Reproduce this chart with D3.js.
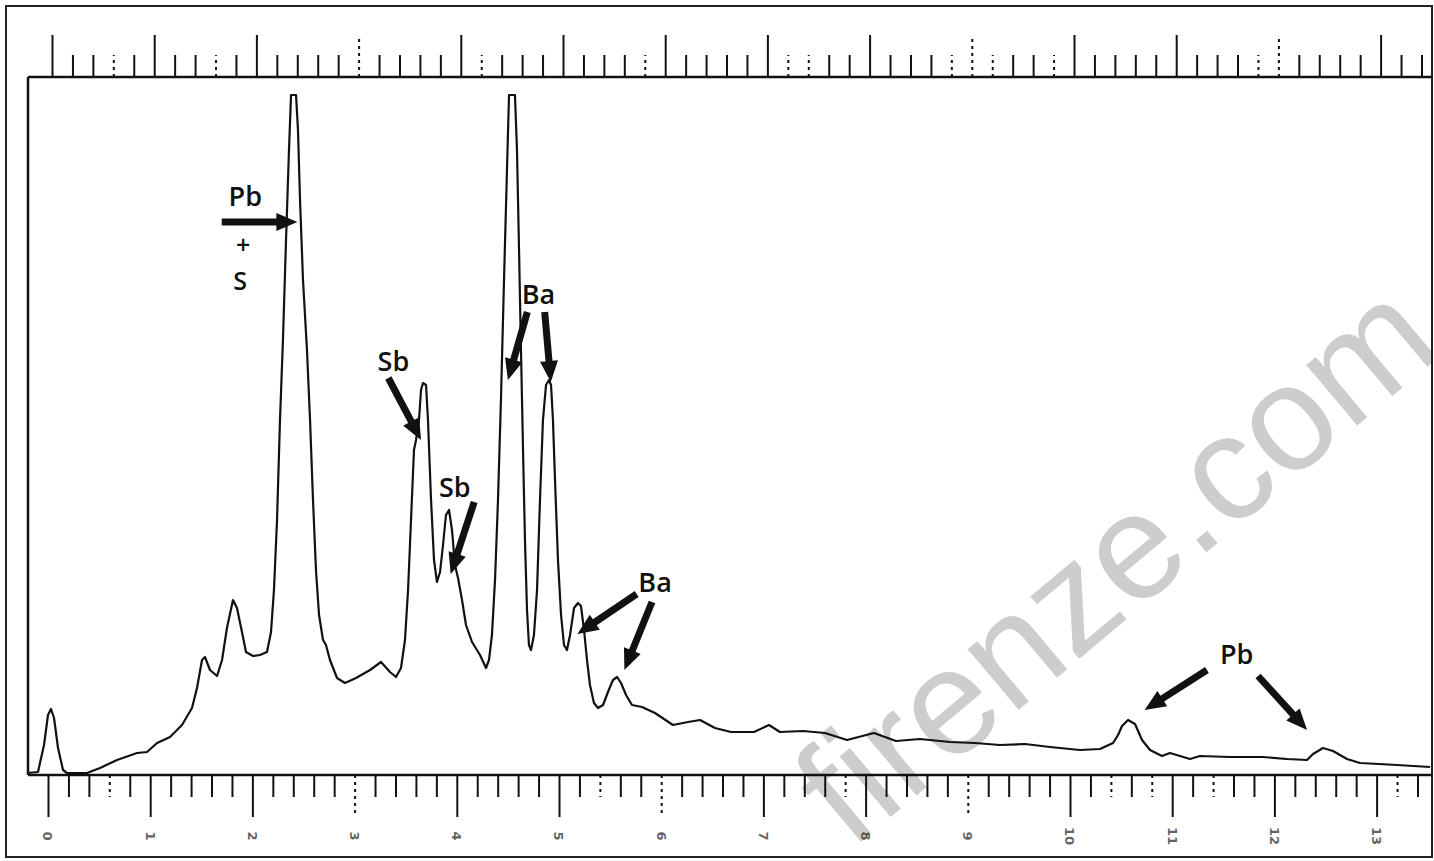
<!DOCTYPE html>
<html>
<head>
    <meta charset="utf-8">
    <title>X-ray spectrum - Pb, Sb, Ba</title>
    <script src="https://d3js.org/d3.v7.min.js"></script>
    <style>
        body { margin: 0; background: #fff; }
        svg { display: block; }
    </style>
</head>
<body>
    <svg id="chart" width="1434" height="861"></svg>

    <script type="text/javascript">
        // spectrum (energy in keV, counts in arbitrary units)
        var energy = [
            -0.205, -0.098, -0.039, 0, 0.029, 0.059, 0.098, 0.147, 0.186, 0.382,
            0.509, 0.675, 0.871, 0.969, 1.067, 1.194, 1.311, 1.409, 1.458, 1.507,
            1.536, 1.585, 1.654, 1.703, 1.751, 1.810, 1.849, 1.898, 1.937, 2.006,
            2.074, 2.143, 2.182, 2.211, 2.241, 2.270, 2.299, 2.329, 2.358, 2.378,
            2.427, 2.446, 2.466, 2.495, 2.534, 2.564, 2.593, 2.622, 2.652, 2.691,
            2.720, 2.759, 2.828, 2.906, 3.014, 3.151, 3.258, 3.346, 3.405, 3.454,
            3.493, 3.523, 3.552, 3.581, 3.601, 3.630, 3.650, 3.669, 3.699, 3.718,
            3.748, 3.777, 3.806, 3.836, 3.865, 3.894, 3.924, 3.953, 3.982, 4.012,
            4.051, 4.090, 4.149, 4.227, 4.286, 4.315, 4.344, 4.374, 4.403, 4.432,
            4.462, 4.491, 4.511, 4.569, 4.589, 4.609, 4.628, 4.648, 4.667, 4.687,
            4.706, 4.726, 4.755, 4.785, 4.814, 4.843, 4.873, 4.902, 4.922, 4.941,
            4.961, 4.990, 5.020, 5.049, 5.078, 5.108, 5.147, 5.186, 5.215, 5.245,
            5.274, 5.303, 5.342, 5.382, 5.431, 5.479, 5.528, 5.568, 5.607, 5.656,
            5.714, 5.812, 5.939, 6.115, 6.262, 6.380, 6.526, 6.683, 6.908, 7.055,
            7.162, 7.387, 7.603, 7.818, 8.082, 8.297, 8.532, 8.826, 9.070, 9.315,
            9.560, 9.804, 10.098, 10.294, 10.421, 10.470, 10.509, 10.568, 10.636, 10.705,
            10.783, 10.900, 10.978, 11.174, 11.272, 11.566, 11.888, 12.123, 12.319, 12.378,
            12.476, 12.573, 12.710, 12.838, 13.200, 13.523
        ];
        var counts = [
            0, 1, 28, 58, 64, 55, 25, 3, 0, 0,
            5, 13, 20, 21, 30, 36, 48, 65, 85, 113,
            116, 103, 97, 113, 145, 173, 165, 141, 121, 117,
            118, 121, 141, 183, 253, 353, 433, 533, 623, 678,
            678, 643, 573, 493, 423, 353, 273, 203, 158, 133,
            128, 113, 95, 90, 95, 103, 111, 101, 96, 105,
            133, 183, 253, 323, 333, 353, 383, 390, 388, 353,
            273, 213, 191, 201, 228, 258, 263, 243, 208, 195,
            173, 148, 131, 118, 105, 113, 138, 193, 273, 373,
            493, 603, 678, 678, 623, 523, 423, 323, 233, 163,
            128, 123, 138, 183, 273, 353, 388, 393, 388, 353,
            293, 213, 158, 128, 123, 138, 165, 170, 167, 143,
            113, 88, 70, 65, 68, 81, 93, 96, 90, 78,
            68, 66, 60, 48, 51, 53, 45, 41, 41, 48,
            41, 42, 40, 33, 40, 32, 34, 31, 30, 28,
            29, 26, 23, 24, 30, 38, 47, 53, 49, 33,
            23, 17, 20, 14, 17, 16, 16, 14, 13, 19,
            25, 22, 14, 10, 8, 6
        ];

        var tickLabels = ["0", "1", "2", "3", "4", "5", "6", "7", "8", "9", "10", "11", "12", "13"];

        // ruler ticks that came out broken in the print
        var brokenBottomTicks = [0.6, 3.0, 5.4, 6.0, 7.8, 9.0, 10.4, 10.8, 11.4, 13.2];
        var brokenTopTicks = [0.6, 1.6, 3.0, 4.2, 5.8, 7.2, 7.4, 8.8, 9.0, 9.2, 9.8, 11.8, 12.0];

        // element labels and arrows, in keV / counts
        var peakLabels = [
            { text: "Pb", e: 1.93, c: 576 },
            { text: "+", e: 1.91, c: 528 },
            { text: "S", e: 1.88, c: 492 },
            { text: "Sb", e: 3.38, c: 411 },
            { text: "Sb", e: 3.98, c: 285 },
            { text: "Ba", e: 4.80, c: 478 },
            { text: "Ba", e: 5.94, c: 190 },
            { text: "Pb", e: 11.63, c: 118 }
        ];
        var peakArrows = [
            { e1: 1.70, c1: 551, e2: 2.44, c2: 551 },
            { e1: 3.33, c1: 395, e2: 3.65, c2: 333 },
            { e1: 4.17, c1: 271, e2: 3.94, c2: 199 },
            { e1: 4.69, c1: 461, e2: 4.50, c2: 393 },
            { e1: 4.86, c1: 461, e2: 4.92, c2: 391 },
            { e1: 5.76, c1: 179, e2: 5.18, c2: 139 },
            { e1: 5.91, c1: 171, e2: 5.64, c2: 103 },
            { e1: 11.34, c1: 103, e2: 10.73, c2: 63 },
            { e1: 11.84, c1: 97, e2: 12.32, c2: 43 }
        ];

        var watermark = "firenze.com";

        var svg = d3.select("#chart");
        var plotLeft = 28, plotRight = 1432, topBase = 77, bottomBase = 775;

        var x = d3.scaleLinear().domain([0, 13]).range([48, 1376.6]);
        var xTop = d3.scaleLinear().domain([0, 13]).range([52, 1380.6]);
        var y = d3.scaleLinear().domain([0, 700]).range([773, 73]);

        // watermark sits behind everything, clipped to the frame like the scan
        svg.append("clipPath")
            .attr("id", "frameClip")
            .append("rect")
            .attr("x", 6).attr("y", 6)
            .attr("width", 1426).attr("height", 851);

        svg.append("g")
            .attr("clip-path", "url(#frameClip)")
            .append("text")
            .attr("transform", "translate(1445,352) rotate(-40)")
            .attr("text-anchor", "end")
            .style("font-family", "Liberation Sans, Arial, sans-serif")
            .style("font-size", "150px")
            .style("fill", "#cdcdcd")
            .text(watermark);

        // outer frame
        svg.append("rect")
            .attr("x", 6).attr("y", 6)
            .attr("width", 1426).attr("height", 851)
            .style("fill", "none")
            .style("stroke", "#222")
            .style("stroke-width", 2);

        var tickKey = function(v) { return Math.round(v * 5); };
        var brokenBottom = brokenBottomTicks.map(tickKey);
        var brokenTop = brokenTopTicks.map(tickKey);
        var tickValues = d3.range(0, 68).map(function(k) { return k / 5; });

        // bottom ruler
        var bottomAxis = d3.axisBottom(x)
            .tickValues(tickValues)
            .tickSizeOuter(0)
            .tickFormat("");
        var gb = svg.append("g")
            .attr("transform", "translate(0," + bottomBase + ")")
            .call(bottomAxis);
        gb.select(".domain").remove();
        gb.selectAll(".tick line")
            .attr("y2", function(d) { return tickKey(d) % 5 == 0 ? 42 : 22; })
            .style("stroke", "#111")
            .style("stroke-width", 2)
            .style("stroke-dasharray", function(d) {
                return brokenBottom.indexOf(tickKey(d)) >= 0 ? "3,4" : null;
            });

        svg.append("g").selectAll("text")
            .data(tickLabels)
            .enter()
            .append("text")
            .attr("transform", function(d, i) {
                return "translate(" + x(i) + "," + (bottomBase + 61) + ") rotate(90)";
            })
            .attr("text-anchor", "middle")
            .attr("dy", "0.35em")
            .style("font-family", "DejaVu Sans, sans-serif")
            .style("font-weight", "bold")
            .style("font-size", "13px")
            .style("fill", "#222")
            .style("opacity", 0.7)
            .text(function(d) { return d; });

        // top ruler
        var topAxis = d3.axisTop(xTop)
            .tickValues(tickValues)
            .tickSizeOuter(0)
            .tickFormat("");
        var gt = svg.append("g")
            .attr("transform", "translate(0," + topBase + ")")
            .call(topAxis);
        gt.select(".domain").remove();
        gt.selectAll(".tick line")
            .attr("y2", function(d) { return tickKey(d) % 5 == 0 ? -42 : -22; })
            .style("stroke", "#111")
            .style("stroke-width", 2)
            .style("stroke-dasharray", function(d) {
                return brokenTop.indexOf(tickKey(d)) >= 0 ? "3,4" : null;
            });

        // baselines and left edge
        svg.append("line")
            .attr("x1", plotLeft).attr("x2", plotRight)
            .attr("y1", topBase).attr("y2", topBase)
            .style("stroke", "#111").style("stroke-width", 2.5);
        svg.append("line")
            .attr("x1", plotLeft).attr("x2", plotRight)
            .attr("y1", bottomBase).attr("y2", bottomBase)
            .style("stroke", "#111").style("stroke-width", 2.5);
        svg.append("line")
            .attr("x1", plotLeft).attr("x2", plotLeft)
            .attr("y1", topBase).attr("y2", bottomBase)
            .style("stroke", "#111").style("stroke-width", 2.5);

        // the spectrum trace
        var spectrum = energy.map(function(e, i) { return [e, counts[i]]; });
        var line = d3.line()
            .x(function(d) { return x(d[0]); })
            .y(function(d) { return y(d[1]); });

        svg.append("path")
            .datum(spectrum)
            .attr("d", line)
            .style("fill", "none")
            .style("stroke", "#111")
            .style("stroke-width", 2.2)
            .style("stroke-linejoin", "round");

        // arrows
        var arrowShape = function(d) {
            var x1 = x(d.e1), y1 = y(d.c1), x2 = x(d.e2), y2 = y(d.c2);
            var len = Math.hypot(x2 - x1, y2 - y1);
            var ux = (x2 - x1) / len, uy = (y2 - y1) / len;
            var px = -uy, py = ux;
            var hl = 21, hw = 9, sw = 3.5;
            var bx = x2 - ux * hl, by = y2 - uy * hl;
            var pts = [
                [x1 + px * sw, y1 + py * sw],
                [bx + px * sw, by + py * sw],
                [bx + px * hw, by + py * hw],
                [x2, y2],
                [bx - px * hw, by - py * hw],
                [bx - px * sw, by - py * sw],
                [x1 - px * sw, y1 - py * sw]
            ];
            return d3.line()(pts) + "Z";
        };

        svg.append("g").selectAll("path")
            .data(peakArrows)
            .enter()
            .append("path")
            .attr("d", arrowShape)
            .style("fill", "#111");

        svg.append("g").selectAll("text")
            .data(peakLabels)
            .enter()
            .append("text")
            .attr("x", function(d) { return x(d.e); })
            .attr("y", function(d) { return y(d.c); })
            .attr("text-anchor", "middle")
            .attr("dy", "0.35em")
            .style("font-family", "Open Sans, sans-serif")
            .style("font-weight", 600)
            .style("font-size", function(d) {
                if (d.text == "+") return "25px";
                else if (d.text == "S") return "25px";
                return "27px";
            })
            .style("fill", "#111")
            .text(function(d) { return d.text; });
    </script>
</body>
</html>
